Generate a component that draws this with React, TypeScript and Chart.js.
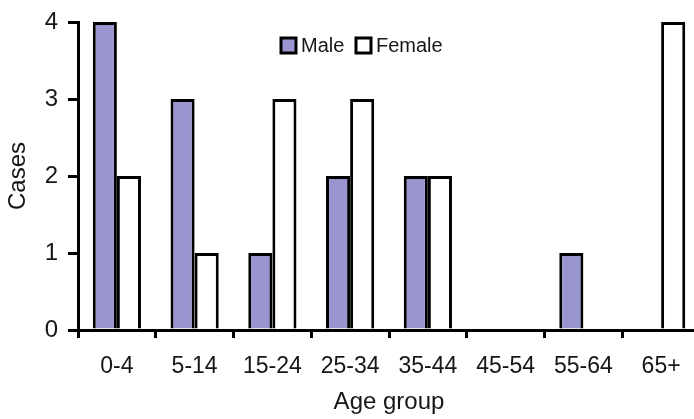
import React, { useEffect, useRef } from "react";
import { Chart, registerables } from "chart.js";

Chart.register(...registerables);

const categories = ["0-4", "5-14", "15-24", "25-34", "35-44", "45-54", "55-64", "65+"];
const maleCases = [4, 3, 1, 2, 2, 0, 1, 0];
const femaleCases = [2, 1, 3, 3, 2, 0, 0, 4];
const yTicks = [0, 1, 2, 3, 4];
const seriesNames = ["Male", "Female"];
const xTitle = "Age group";
const yTitle = "Cases";

const FONT = '"Liberation Sans", Arial, sans-serif';
const TEXT = "#161616";
const MALE_FILL = "#9895cf";
const FEMALE_FILL = "#ffffff";

const legendPlugin = {
  id: "inlineLegend",
  afterDraw(chart: any) {
    const ctx = chart.ctx;
    const { left, top } = chart.chartArea;
    const fills = [MALE_FILL, FEMALE_FILL];
    const offsets = [203, 278];
    ctx.save();
    ctx.font = `20px ${FONT}`;
    ctx.textBaseline = "middle";
    ctx.textAlign = "left";
    seriesNames.forEach((name, i) => {
      const bx = left + offsets[i];
      const by = top + 16;
      ctx.fillStyle = fills[i];
      ctx.fillRect(bx, by, 15, 15);
      ctx.lineWidth = 3;
      ctx.strokeStyle = "#000";
      ctx.strokeRect(bx, by, 15, 15);
      ctx.fillStyle = TEXT;
      ctx.fillText(name, bx + 20, by + 8);
    });
    ctx.restore();
  },
};

export default function App() {
  const ref = useRef<HTMLCanvasElement | null>(null);

  useEffect(() => {
    if (!ref.current) return;
    const chart = new Chart(ref.current, {
      type: "bar",
      data: {
        labels: categories,
        datasets: [
          {
            label: seriesNames[0],
            data: maleCases,
            backgroundColor: MALE_FILL,
            borderColor: "#000",
            borderWidth: 3,
          },
          {
            label: seriesNames[1],
            data: femaleCases,
            backgroundColor: FEMALE_FILL,
            borderColor: "#000",
            borderWidth: 3,
          },
        ],
      },
      options: {
        responsive: false,
        animation: false,
        devicePixelRatio: 1,
        layout: { padding: { top: 22, left: 0, right: 0, bottom: 0 } },
        datasets: { bar: { barPercentage: 1, categoryPercentage: 0.62 } },
        plugins: { legend: { display: false }, tooltip: { enabled: false } },
        scales: {
          x: {
            z: 1,
            border: { display: true, color: "#000", width: 3 },
            grid: {
              offset: true,
              drawOnChartArea: false,
              drawTicks: true,
              tickLength: 8,
              color: "#000",
              lineWidth: 3,
            },
            ticks: {
              color: TEXT,
              font: { family: FONT, size: 23 },
              padding: 15,
              maxRotation: 0,
              autoSkip: false,
            },
            title: {
              display: true,
              text: xTitle,
              color: TEXT,
              font: { family: FONT, size: 24 },
              padding: { top: 0, bottom: 2 },
            },
            afterFit: (s: any) => {
              s.height = 89;
              s.paddingLeft = 0;
              s.paddingRight = 0;
            },
          },
          y: {
            min: 0,
            max: 4,
            border: { display: true, color: "#000", width: 3 },
            grid: {
              drawOnChartArea: false,
              drawTicks: true,
              tickLength: 10,
              color: "#000",
              lineWidth: 3,
            },
            ticks: {
              color: TEXT,
              font: { family: FONT, size: 24 },
              padding: 10,
            },
            afterBuildTicks: (s: any) => {
              s.ticks = yTicks.map((v) => ({ value: v }));
            },
            title: {
              display: true,
              text: yTitle,
              color: TEXT,
              font: { family: FONT, size: 24 },
              padding: { top: 4, bottom: 0 },
            },
            afterFit: (s: any) => {
              s.width = 78;
              s.paddingTop = 0;
              s.paddingBottom = 0;
            },
          },
        },
      },
      plugins: [legendPlugin],
    });
    return () => chart.destroy();
  }, []);

  return (
    <div
      style={{
        position: "fixed",
        left: 0,
        top: 0,
        width: 694,
        height: 419,
        overflow: "hidden",
        background: "#fff",
      }}
    >
      <canvas ref={ref} width={700} height={419} style={{ display: "block" }} />
    </div>
  );
}
